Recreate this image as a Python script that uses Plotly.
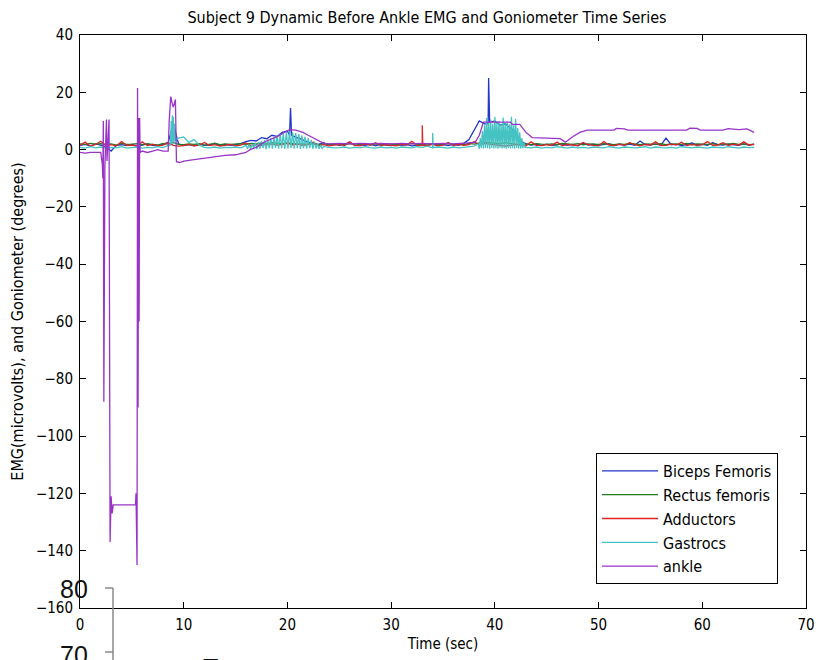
import plotly.graph_objects as go

# ---------------- data ----------------
T_GRID = [i * 0.5 for i in range(131)]  # sample times 0 .. 65 s

biceps_base = [
    1.5, 1.8, 1.2, 2.0, 1.6, 1.0, -0.5, 1.5, 1.7, 1.4,
    1.8, 1.2, 1.6, 2.0, 1.5, 1.3, 1.8, 2.5, 9.0, 2.0,
    1.5, 1.7, 1.3, 1.9, 1.5, 1.6, 2.2, 1.4, 1.8, 1.5,
    1.7, 2.1, 2.8, 3.2, 3.0, 4.2, 3.8, 5.0, 4.6, 6.0,
    6.5, 4.8, 4.0, 3.2, 2.6, 2.2, 1.8, 2.4, 1.6, 1.9,
    1.5, 1.8, 2.6, 1.4, 1.7, 1.5, 1.9, 1.3, 1.8, 1.6,
    1.4, 1.9, 1.5, 1.7, 1.3, 1.6, 1.8, 1.5, 2.0, 1.6,
    1.7, 1.4, 1.8, 1.5, 2.2, 3.5, 7.0, 10.0, 9.0, 9.5,
    10.0, 8.5, 9.0, 7.5, 6.0, 3.0, 2.0, 1.6, 1.8, 1.5,
    1.9, 1.4, 1.7, 2.0, 1.5, 1.8, 1.3, 2.2, 1.6, 1.9,
    1.5, 1.7, 2.1, 1.4, 1.8, 1.6, 1.9, 1.5, 3.0, 1.7,
    1.6, 2.0, 1.5, 4.0, 1.7, 1.9, 1.4, 1.8, 2.3, 1.6,
    1.8, 1.5, 2.4, 1.7, 1.6, 1.9, 1.7, 1.5, 2.0, 1.6, 1.8,
]
biceps_spike_t = [20.2, 20.3, 20.4, 39.35, 39.4, 39.45]
biceps_spike_v = [5.0, 14.5, 5.0, 9.0, 25.0, 10.0]

rectus_base = [
    2.0, 1.8, 2.2, 1.9, 2.1, 1.7, 2.0, 1.6, 2.2, 1.8,
    1.9, 2.1, 1.7, 2.0, 1.8, 1.6, 2.2, 1.9, 2.5, 1.8,
    1.7, 2.0, 1.8, 2.1, 1.6, 1.9, 2.2, 1.7, 2.0, 1.8,
    1.9, 2.1, 1.8, 2.2, 2.0, 2.3, 2.1, 2.4, 2.2, 2.0,
    2.3, 2.1, 1.9, 2.0, 1.8, 2.1, 1.7, 2.0, 1.9, 1.8,
    2.0, 1.7, 2.1, 1.9, 1.8, 2.2, 1.6, 2.0, 1.8, 2.1,
    1.9, 1.7, 2.0, 1.8, 2.2, 1.9, 1.7, 2.1, 1.8, 2.0,
    1.9, 2.1, 1.8, 2.0, 1.7, 2.2, 1.9, 2.3, 2.6, 2.4,
    2.2, 2.0, 2.4, 2.1, 1.9, 1.8, 2.0, 1.7, 2.1, 1.9,
    1.8, 2.0, 1.7, 2.2, 1.9, 1.8, 2.1, 1.7, 2.0, 1.9,
    1.8, 2.1, 1.9, 1.7, 2.0, 1.8, 2.2, 1.9, 1.7, 2.0,
    1.9, 1.8, 2.1, 1.7, 2.0, 1.9, 1.8, 2.2, 1.7, 2.0,
    1.9, 1.8, 2.1, 1.7, 2.0, 1.9, 2.2, 1.8, 2.0, 1.7, 1.9,
]

adductors_base = [
    1.5, 2.6, 1.2, 1.8, 2.9, 1.4, 1.7, 1.3, 2.8, 1.5,
    1.6, 1.2, 2.7, 1.4, 1.8, 1.3, 1.6, 2.4, 1.5, 1.2,
    1.4, 1.8, 1.3, 1.6, 2.5, 1.4, 1.7, 1.2, 1.5, 1.8,
    1.3, 1.6, 2.3, 1.4, 1.7, 1.5, 1.8, 2.0, 1.6, 1.9,
    2.2, 1.7, 1.9, 1.5, 1.8, 2.6, 1.4, 1.7, 1.3, 1.6,
    1.8, 1.4, 2.7, 1.5, 1.3, 1.9, 1.6, 2.4, 1.4, 1.7,
    1.5, 1.3, 1.8, 1.6, 2.9, 1.4, 1.7, 1.5, 1.8, 1.3,
    1.6, 2.5, 1.4, 1.8, 1.5, 1.7, 2.8, 1.6, 2.2, 1.9,
    1.6, 1.4, 1.2, 1.5, 1.8, 1.6, 1.3, 2.7, 1.5, 1.4,
    1.7, 1.5, 2.6, 1.3, 1.8, 1.6, 1.4, 2.5, 1.7, 1.5,
    1.3, 2.8, 1.6, 1.4, 1.9, 1.5, 2.4, 1.7, 1.3, 1.8,
    1.6, 2.7, 1.4, 1.5, 1.9, 1.6, 2.6, 1.4, 1.8, 1.5,
    1.7, 2.8, 1.5, 1.6, 2.4, 1.4, 1.9, 1.5, 2.7, 1.6, 1.8,
]
adductors_spike_t = [32.95, 33.0, 33.05]
adductors_spike_v = [1.5, 8.5, 1.5]

gastrocs_base = [
    0.8, 0.5, 1.0, 0.6, 0.9, 0.4, 0.8, 0.6, 1.0, 0.5,
    0.7, 0.9, 0.5, 0.8, 0.6, 1.0, 0.7, 1.5, 3.0, 4.0,
    4.4, 2.5, 3.5, 1.5, 0.8, 0.6, 0.9, 0.5, 0.8, 0.7,
    0.9, 0.6, 1.0, 1.0, 1.0, 1.0, 1.0, 1.0, 1.0, 1.0,
    1.0, 1.0, 1.0, 1.0, 1.0, 1.0, 1.0, 1.0, 0.8, 0.6,
    0.7, 0.9, 0.5, 0.8, 0.6, 1.0, 0.7, 0.5, 0.9, 0.6,
    0.8, 0.5, 0.9, 0.7, 0.6, 1.0, 0.8, 1.2, 0.6, 0.9,
    0.7, 0.5, 0.9, 0.6, 0.8, 1.0, 1.2, 1.0, 1.0, 1.0,
    1.0, 1.0, 1.0, 1.0, 1.0, 1.0, 0.8, 0.6, 0.9, 0.5,
    0.8, 0.6, 1.0, 0.7, 0.5, 0.9, 0.6, 0.8, 0.5, 0.9,
    0.7, 0.6, 1.0, 0.8, 0.5, 0.9, 0.7, 0.6, 0.8, 1.0,
    0.5, 0.9, 0.7, 0.6, 0.8, 0.5, 1.0, 0.7, 0.6, 0.9,
    0.8, 0.5, 0.9, 0.7, 0.6, 1.0, 0.8, 0.5, 0.9, 0.7, 0.8,
]
gastrocs_spike_t = [8.7, 8.8, 8.85, 8.9, 8.95, 9.0, 9.05, 9.1, 9.2, 33.95, 34.0, 34.05]
gastrocs_spike_v = [1.5, 10.0, 2.0, 12.0, 3.0, 11.5, 2.0, 9.0, 3.0, 0.8, 5.8, 0.8]
gastrocs_hump1_t = [round(16 + 0.15 * i, 2) for i in range(51)]
gastrocs_hump1_v = [
    1.5, 0.3, 1.8, 0.2, 2.0, 0.4, 2.4, 0.2, 2.6, 0.3,
    3.0, 0.5, 3.3, 0.2, 3.6, 0.4, 4.0, 0.3, 4.4, 0.6,
    4.8, 0.3, 5.3, 0.5, 5.6, 0.2, 6.1, 0.4, 6.3, 0.6,
    6.0, 0.3, 5.8, 0.5, 5.4, 0.2, 5.0, 0.4, 4.5, 0.3,
    4.0, 0.5, 3.4, 0.3, 2.8, 0.4, 2.2, 0.3, 1.6, 0.4, 1.1,
]
gastrocs_hump2_t = [round(38.4 + 0.1 * i, 2) for i in range(46)]
gastrocs_hump2_v = [
    2.0, 0.3, 4.0, 0.5, 6.5, 0.4, 8.5, 0.6, 11.0, 0.5,
    9.5, 0.3, 10.5, 0.6, 9.0, 0.4, 11.5, 0.5, 9.5, 0.3,
    10.0, 0.6, 9.0, 0.4, 11.2, 0.5, 9.2, 0.3, 9.8, 0.6,
    8.8, 0.4, 11.5, 0.5, 8.5, 0.3, 10.8, 0.6, 7.5, 0.4,
    6.0, 0.3, 4.0, 0.5, 2.5, 0.8,
]

ankle_t = [
    0, 0.5, 1.0, 1.5, 2.0, 2.15, 2.2, 2.25, 2.3, 2.4, 2.55, 2.6, 2.8, 2.9, 2.95,
    3.0, 3.1, 3.15, 3.2, 4.0, 5.0, 5.35, 5.4, 5.45, 5.5, 5.55, 5.6, 5.65, 5.7, 5.75,
    5.8, 6.0, 6.5, 7.0, 7.5, 8.0, 8.5, 8.6, 8.75, 8.9, 9.0, 9.2, 9.3, 9.6, 10, 11,
    12, 13, 14, 15, 16, 16.4, 17, 17.5, 18, 19, 19.8, 20.2, 20.8, 21.5, 22, 22.5,
    23, 23.5, 24, 25, 26, 27, 28, 29, 30, 31, 32, 33, 34, 35, 36, 37, 38.1, 38.5,
    38.9, 41.5, 41.7, 42.4, 43.0, 43.6, 45, 46.3, 46.8, 47.5, 48.2, 48.9, 50, 51.5,
    51.7, 52.5, 52.8, 55, 58.5, 58.8, 59.5, 59.8, 62, 62.5, 63.5, 64.3, 64.8, 65,
]
ankle_v = [
    -1, -1.2, -1, -1.1, -1, -5, -10, 10, -88, -6, 10.5, -4, 10.5, -137, -124,
    -121, -127, -124, -124, -124, -124, -124, -120, -128, -145, 21.5, -90, 11, -60, 11,
    -1, -0.5, -1, -0.5, 0, -0.5, -0.5, 10, 18.5, 16, 14.8, 17.5, -4.2, -4.5, -4, -3.5,
    -3, -2.5, -2, -1.8, -1, 0, 0.8, 2, 3, 4.5, 6, 7, 6.8, 6, 5, 4,
    3, 2.2, 2.0, 2.2, 2.0, 2.2, 2.0, 2.2, 2.0, 2.2, 2.0, 2.2, 2.0, 2.2, 2.0, 2.3, 2.5, 5,
    9.6, 9.6, 8.8, 8.8, 6, 4.2, 4.0, 3.8, 2.6, 4.5, 6, 6.8, 6.8, 6.8,
    7.4, 7.2, 6.8, 6.8, 6.8, 7.5, 7.4, 6.8, 6.8, 7.3, 7.0, 7.2, 6.2, 6.0,
]

legend_names = ["Biceps Femoris", "Rectus femoris", "Adductors", "Gastrocs", "ankle"]
x_ticks = [0, 10, 20, 30, 40, 50, 60, 70]
y_ticks = [-160, -140, -120, -100, -80, -60, -40, -20, 0, 20, 40]


def merge(base, ext_t=(), ext_v=(), drop=()):
    pts = [(t, v) for t, v in zip(T_GRID, base)
           if not any(a <= t <= b for a, b in drop)]
    pts += list(zip(ext_t, ext_v))
    pts.sort()
    return [p[0] for p in pts], [p[1] for p in pts]


series = [
    merge(biceps_base, biceps_spike_t, biceps_spike_v),
    merge(rectus_base),
    merge(adductors_base, adductors_spike_t, adductors_spike_v),
    merge(gastrocs_base,
          gastrocs_spike_t + gastrocs_hump1_t + gastrocs_hump2_t,
          gastrocs_spike_v + gastrocs_hump1_v + gastrocs_hump2_v,
          drop=[(16.0, 23.5), (38.4, 42.9)]),
    (ankle_t, ankle_v),
]
colors = ["#2236c8", "#1f7a1f", "#dc2424", "#45c3c3", "#9a34c8"]

FONT = "DejaVu Sans Condensed, Liberation Sans Narrow, sans-serif"

W, H = 816, 660

fig = go.Figure()
for (t, v), name, c in zip(series, legend_names, colors):
    fig.add_trace(go.Scatter(x=t, y=v, mode="lines", name=name,
                             line=dict(color=c, width=1.3)))

axis_common = dict(showgrid=False, zeroline=False, showline=True, linecolor="black",
                   linewidth=1, mirror="ticks", ticks="inside", ticklen=6,
                   tickcolor="black", ticklabelstandoff=3, automargin=False,
                   tickfont=dict(family=FONT, size=15, color="black"))

fig.update_layout(
    width=W, height=H,
    margin=dict(l=80, r=W - 806, t=35, b=H - 608),
    paper_bgcolor="white", plot_bgcolor="white",
    title=dict(text="Subject 9 Dynamic Before Ankle EMG and Goniometer Time Series",
               x=427 / W, xanchor="center",
               y=1 - 17 / H, yanchor="middle",
               font=dict(family=FONT, size=16, color="black")),
    xaxis=dict(range=[0, 70], tickvals=x_ticks,
               title=dict(text="Time (sec)", font=dict(family=FONT, size=15, color="black"),
                          standoff=5),
               **axis_common),
    yaxis=dict(range=[-160, 40], tickvals=y_ticks,
               title=dict(text="EMG(microvolts), and Goniometer (degrees)",
                          font=dict(family=FONT, size=16, color="black"), standoff=8),
               **axis_common),
    legend=dict(x=(596 - 80) / 726, y=(608 - 453) / 573, xanchor="left", yanchor="top",
                bordercolor="black", borderwidth=1, bgcolor="white",
                font=dict(family=FONT, size=16, color="black"),
                itemwidth=56),
    showlegend=True,
)


# fragment of a neighbouring chart bleeding in at the bottom-left of the image
def px_x(px):
    return (px - 80) / 726


def px_y(py):
    return (608 - py) / 573


gray = "#888888"
fig.add_shape(type="line", xref="paper", yref="paper", x0=px_x(113), x1=px_x(113),
              y0=px_y(588), y1=px_y(700), line=dict(color=gray, width=1.5))
for ty in (588, 652):
    fig.add_shape(type="line", xref="paper", yref="paper", x0=px_x(105), x1=px_x(113),
                  y0=px_y(ty), y1=px_y(ty), line=dict(color=gray, width=1.5))
for txt, cx, cy in (("80", 74, 589), ("70", 74, 655), ("T", 210, 668)):
    fig.add_annotation(text=txt, xref="paper", yref="paper", x=px_x(cx), y=px_y(cy),
                       showarrow=False, xanchor="center", yanchor="middle",
                       font=dict(family="Liberation Sans, Arial, sans-serif", size=25,
                                 color="#111111"))

# remove the browser's default 8px body margin so the figure fills the window exactly
fig.write_html("out.html",
               config={"displayModeBar": False},
               post_script="document.body.style.margin='0px';"
                           "document.body.style.overflow='hidden';")
